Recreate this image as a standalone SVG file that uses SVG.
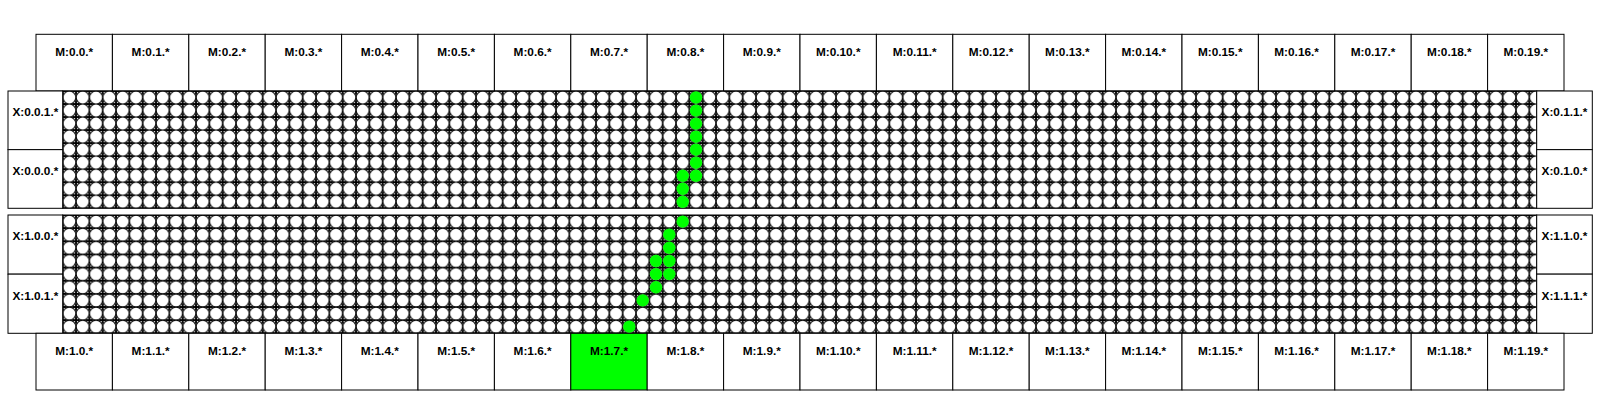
<svg xmlns="http://www.w3.org/2000/svg" width="1600" height="400" viewBox="0 0 1600 400">
<style>
.box{fill:#fff;stroke:#000;stroke-width:1}
.on{fill:#00ff00;stroke:#000;stroke-width:1}
.lbl{font-family:"Liberation Sans",Arial,sans-serif;font-weight:bold;font-size:11.8px;text-anchor:middle;fill:#000}
.g{fill:#00ff00}
</style>
<defs>
<pattern id="pt" patternUnits="userSpaceOnUse" x="62.7" y="91" width="13.333" height="13.033">
<rect width="13.333" height="13.033" fill="#fff"/>
<circle cx="6.667" cy="6.517" r="6.45" fill="#fff" stroke="#000" stroke-width="1"/>
<path d="M0 0H3.6M0 0V3.6M13.333 0H9.733M13.333 0V3.6M0 13.033H3.6M0 13.033V9.433M13.333 13.033H9.733M13.333 13.033V9.433" stroke="#000" stroke-width="1.8" fill="none"/>
</pattern>
<pattern id="pb" patternUnits="userSpaceOnUse" x="62.7" y="215" width="13.333" height="13.144">
<rect width="13.333" height="13.144" fill="#fff"/>
<circle cx="6.667" cy="6.572" r="6.45" fill="#fff" stroke="#000" stroke-width="1"/>
<path d="M0 0H3.6M0 0V3.6M13.333 0H9.733M13.333 0V3.6M0 13.144H3.6M0 13.144V9.544M13.333 13.144H9.733M13.333 13.144V9.544" stroke="#000" stroke-width="1.8" fill="none"/>
</pattern>
</defs>
<rect width="1600" height="400" fill="#fff"/>
<g id="top-modules">
<g id="m0-0"><rect class="box" x="36" y="34.3" width="76.4" height="56.7"/><text class="lbl" x="74.2" y="55.5">M:0.0.*</text></g>
<g id="m0-1"><rect class="box" x="112.4" y="34.3" width="76.4" height="56.7"/><text class="lbl" x="150.6" y="55.5">M:0.1.*</text></g>
<g id="m0-2"><rect class="box" x="188.8" y="34.3" width="76.4" height="56.7"/><text class="lbl" x="227" y="55.5">M:0.2.*</text></g>
<g id="m0-3"><rect class="box" x="265.2" y="34.3" width="76.4" height="56.7"/><text class="lbl" x="303.4" y="55.5">M:0.3.*</text></g>
<g id="m0-4"><rect class="box" x="341.6" y="34.3" width="76.4" height="56.7"/><text class="lbl" x="379.8" y="55.5">M:0.4.*</text></g>
<g id="m0-5"><rect class="box" x="418" y="34.3" width="76.4" height="56.7"/><text class="lbl" x="456.2" y="55.5">M:0.5.*</text></g>
<g id="m0-6"><rect class="box" x="494.4" y="34.3" width="76.4" height="56.7"/><text class="lbl" x="532.6" y="55.5">M:0.6.*</text></g>
<g id="m0-7"><rect class="box" x="570.8" y="34.3" width="76.4" height="56.7"/><text class="lbl" x="609" y="55.5">M:0.7.*</text></g>
<g id="m0-8"><rect class="box" x="647.2" y="34.3" width="76.4" height="56.7"/><text class="lbl" x="685.4" y="55.5">M:0.8.*</text></g>
<g id="m0-9"><rect class="box" x="723.6" y="34.3" width="76.4" height="56.7"/><text class="lbl" x="761.8" y="55.5">M:0.9.*</text></g>
<g id="m0-10"><rect class="box" x="800" y="34.3" width="76.4" height="56.7"/><text class="lbl" x="838.2" y="55.5">M:0.10.*</text></g>
<g id="m0-11"><rect class="box" x="876.4" y="34.3" width="76.4" height="56.7"/><text class="lbl" x="914.6" y="55.5">M:0.11.*</text></g>
<g id="m0-12"><rect class="box" x="952.8" y="34.3" width="76.4" height="56.7"/><text class="lbl" x="991" y="55.5">M:0.12.*</text></g>
<g id="m0-13"><rect class="box" x="1029.2" y="34.3" width="76.4" height="56.7"/><text class="lbl" x="1067.4" y="55.5">M:0.13.*</text></g>
<g id="m0-14"><rect class="box" x="1105.6" y="34.3" width="76.4" height="56.7"/><text class="lbl" x="1143.8" y="55.5">M:0.14.*</text></g>
<g id="m0-15"><rect class="box" x="1182" y="34.3" width="76.4" height="56.7"/><text class="lbl" x="1220.2" y="55.5">M:0.15.*</text></g>
<g id="m0-16"><rect class="box" x="1258.4" y="34.3" width="76.4" height="56.7"/><text class="lbl" x="1296.6" y="55.5">M:0.16.*</text></g>
<g id="m0-17"><rect class="box" x="1334.8" y="34.3" width="76.4" height="56.7"/><text class="lbl" x="1373" y="55.5">M:0.17.*</text></g>
<g id="m0-18"><rect class="box" x="1411.2" y="34.3" width="76.4" height="56.7"/><text class="lbl" x="1449.4" y="55.5">M:0.18.*</text></g>
<g id="m0-19"><rect class="box" x="1487.6" y="34.3" width="76.4" height="56.7"/><text class="lbl" x="1525.8" y="55.5">M:0.19.*</text></g>
</g>
<g id="section-0">
<rect x="62.7" y="91" width="1474" height="117.3" fill="url(#pt)" stroke="#000" stroke-width="1"/>
<g id="x0-0-1"><rect class="box" x="8" y="91" width="54.7" height="58.65"/><text class="lbl" x="35.35" y="115.5">X:0.0.1.*</text></g>
<g id="x0-0-0"><rect class="box" x="8" y="149.65" width="54.7" height="58.65"/><text class="lbl" x="35.35" y="174.5">X:0.0.0.*</text></g>
<g id="x0-1-1"><rect class="box" x="1536.7" y="91" width="55.6" height="58.65"/><text class="lbl" x="1564.5" y="115.5">X:0.1.1.*</text></g>
<g id="x0-1-0"><rect class="box" x="1536.7" y="149.65" width="55.6" height="58.65"/><text class="lbl" x="1564.5" y="174.5">X:0.1.0.*</text></g>
</g>
<g id="section-1">
<rect x="62.7" y="215" width="1474" height="118.3" fill="url(#pb)" stroke="#000" stroke-width="1"/>
<g id="x1-0-0"><rect class="box" x="8" y="215" width="54.7" height="59.15"/><text class="lbl" x="35.35" y="240">X:1.0.0.*</text></g>
<g id="x1-0-1"><rect class="box" x="8" y="274.15" width="54.7" height="59.15"/><text class="lbl" x="35.35" y="299.5">X:1.0.1.*</text></g>
<g id="x1-1-0"><rect class="box" x="1536.7" y="215" width="55.6" height="59.15"/><text class="lbl" x="1564.5" y="240">X:1.1.0.*</text></g>
<g id="x1-1-1"><rect class="box" x="1536.7" y="274.15" width="55.6" height="59.15"/><text class="lbl" x="1564.5" y="299.5">X:1.1.1.*</text></g>
</g>
<g id="connectors">
<circle class="g" cx="696" cy="97.5" r="6.2"/>
<circle class="g" cx="696" cy="110.6" r="6.2"/>
<circle class="g" cx="696" cy="123.6" r="6.2"/>
<circle class="g" cx="696" cy="136.7" r="6.2"/>
<circle class="g" cx="696" cy="149.7" r="6.2"/>
<circle class="g" cx="696" cy="162.7" r="6.2"/>
<circle class="g" cx="696" cy="175.8" r="6.2"/>
<circle class="g" cx="682.7" cy="175.8" r="6.2"/>
<circle class="g" cx="682.7" cy="188.8" r="6.2"/>
<circle class="g" cx="682.7" cy="201.8" r="6.2"/>
<circle class="g" cx="682.7" cy="221.6" r="6.2"/>
<circle class="g" cx="669.3" cy="234.7" r="6.2"/>
<circle class="g" cx="669.3" cy="247.8" r="6.2"/>
<circle class="g" cx="669.3" cy="261" r="6.2"/>
<circle class="g" cx="656" cy="261" r="6.2"/>
<circle class="g" cx="669.3" cy="274.1" r="6.2"/>
<circle class="g" cx="656" cy="274.1" r="6.2"/>
<circle class="g" cx="656" cy="287.3" r="6.2"/>
<circle class="g" cx="642.7" cy="300.4" r="6.2"/>
<circle class="g" cx="629.3" cy="326.7" r="6.2"/>
</g>
<g id="bottom-modules">
<g id="m1-0"><rect class="box" x="36" y="333.3" width="76.4" height="56.7"/><text class="lbl" x="74.2" y="355">M:1.0.*</text></g>
<g id="m1-1"><rect class="box" x="112.4" y="333.3" width="76.4" height="56.7"/><text class="lbl" x="150.6" y="355">M:1.1.*</text></g>
<g id="m1-2"><rect class="box" x="188.8" y="333.3" width="76.4" height="56.7"/><text class="lbl" x="227" y="355">M:1.2.*</text></g>
<g id="m1-3"><rect class="box" x="265.2" y="333.3" width="76.4" height="56.7"/><text class="lbl" x="303.4" y="355">M:1.3.*</text></g>
<g id="m1-4"><rect class="box" x="341.6" y="333.3" width="76.4" height="56.7"/><text class="lbl" x="379.8" y="355">M:1.4.*</text></g>
<g id="m1-5"><rect class="box" x="418" y="333.3" width="76.4" height="56.7"/><text class="lbl" x="456.2" y="355">M:1.5.*</text></g>
<g id="m1-6"><rect class="box" x="494.4" y="333.3" width="76.4" height="56.7"/><text class="lbl" x="532.6" y="355">M:1.6.*</text></g>
<g id="m1-7"><rect class="on" x="570.8" y="333.3" width="76.4" height="56.7"/><text class="lbl" x="609" y="355">M:1.7.*</text></g>
<g id="m1-8"><rect class="box" x="647.2" y="333.3" width="76.4" height="56.7"/><text class="lbl" x="685.4" y="355">M:1.8.*</text></g>
<g id="m1-9"><rect class="box" x="723.6" y="333.3" width="76.4" height="56.7"/><text class="lbl" x="761.8" y="355">M:1.9.*</text></g>
<g id="m1-10"><rect class="box" x="800" y="333.3" width="76.4" height="56.7"/><text class="lbl" x="838.2" y="355">M:1.10.*</text></g>
<g id="m1-11"><rect class="box" x="876.4" y="333.3" width="76.4" height="56.7"/><text class="lbl" x="914.6" y="355">M:1.11.*</text></g>
<g id="m1-12"><rect class="box" x="952.8" y="333.3" width="76.4" height="56.7"/><text class="lbl" x="991" y="355">M:1.12.*</text></g>
<g id="m1-13"><rect class="box" x="1029.2" y="333.3" width="76.4" height="56.7"/><text class="lbl" x="1067.4" y="355">M:1.13.*</text></g>
<g id="m1-14"><rect class="box" x="1105.6" y="333.3" width="76.4" height="56.7"/><text class="lbl" x="1143.8" y="355">M:1.14.*</text></g>
<g id="m1-15"><rect class="box" x="1182" y="333.3" width="76.4" height="56.7"/><text class="lbl" x="1220.2" y="355">M:1.15.*</text></g>
<g id="m1-16"><rect class="box" x="1258.4" y="333.3" width="76.4" height="56.7"/><text class="lbl" x="1296.6" y="355">M:1.16.*</text></g>
<g id="m1-17"><rect class="box" x="1334.8" y="333.3" width="76.4" height="56.7"/><text class="lbl" x="1373" y="355">M:1.17.*</text></g>
<g id="m1-18"><rect class="box" x="1411.2" y="333.3" width="76.4" height="56.7"/><text class="lbl" x="1449.4" y="355">M:1.18.*</text></g>
<g id="m1-19"><rect class="box" x="1487.6" y="333.3" width="76.4" height="56.7"/><text class="lbl" x="1525.8" y="355">M:1.19.*</text></g>
</g>
</svg>
